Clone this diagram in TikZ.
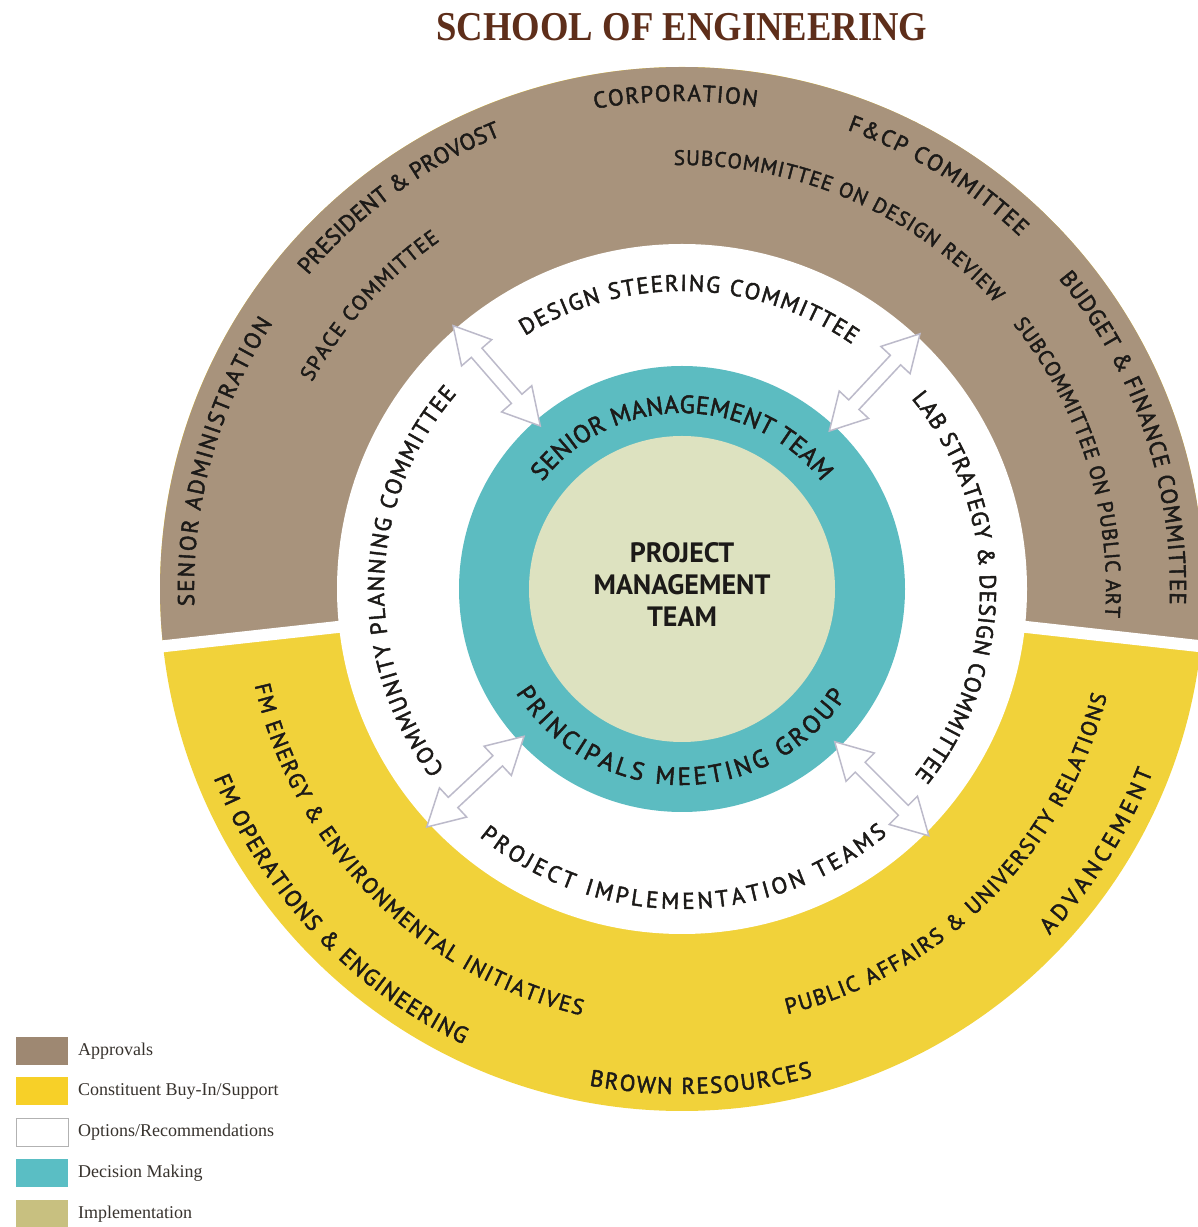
\documentclass[tikz,border=0pt]{standalone}
\usepackage{fontspec}
\setmainfont{PT Sans}
\newfontfamily\arcf{PT Sans}[FakeBold=2]
\newfontfamily\serifff{Liberation Serif}
\usetikzlibrary{calc,decorations.text}
\definecolor{brownc}{RGB}{168,147,124}
\definecolor{yellowc}{RGB}{241,210,58}
\definecolor{tealc}{RGB}{92,188,193}
\definecolor{innerc}{RGB}{221,226,192}
\definecolor{arrowc}{RGB}{188,186,202}
\definecolor{titlec}{RGB}{94,46,26}
\definecolor{txt}{RGB}{28,26,24}
\definecolor{legtxt}{RGB}{55,50,45}
\definecolor{lbrown}{RGB}{158,136,114}
\definecolor{lyellow}{RGB}{247,208,40}
\definecolor{lteal}{RGB}{90,190,196}
\definecolor{lolive}{RGB}{200,192,128}
\newcommand{\ringtext}[5]{%
  \path[decorate, decoration={text along path, text={|\arcf#4|#5}, text align=fit to path, text color=txt}]
    ([shift={(#2:#1)}]C) arc[start angle=#2, end angle=#3, radius=#1];}
\newcommand{\dblarrow}[1]{%
  \begin{scope}[shift={(C)}, rotate=#1]
    \draw[arrowc, fill=white, line width=1.5, line join=miter]
      (216,0) -- (252,20) -- (252,7) -- (313,7) -- (313,20) -- (349,0)
      -- (313,-20) -- (313,-7) -- (252,-7) -- (252,-20) -- cycle;
  \end{scope}}
\def\fA{\fontsize{23}{27}\selectfont}
\def\fB{\fontsize{21}{25}\selectfont}
\def\fC{\fontsize{23}{27}\selectfont}
\def\fD{\fontsize{25}{29}\selectfont}
\def\fE{\fontsize{22}{26}\selectfont}
\def\fF{\fontsize{23}{27}\selectfont}
\tikzset{legbox/.style={minimum width=52, minimum height=28, inner sep=0, draw=none},
  legtext/.style={anchor=west, inner sep=0, text=legtxt, font=\serifff\fontsize{18}{20}\selectfont}}
\begin{document}
\begin{tikzpicture}[x=1pt,y=1pt]
\useasboundingbox (0,0) rectangle (1198,1227);
\coordinate (C) at (682,638);
\begin{scope}
\clip (0,0) rectangle (1198,1227);
\fill[yellowc] (C) circle[radius=522];
\fill[brownc] (C) -- ([shift={(-6.3:522)}]C) arc[start angle=-6.3, end angle=186.3, radius=522] -- cycle;
\draw[white, line width=12] (C) -- ([shift={(-6.3:540)}]C);
\draw[white, line width=12] (C) -- ([shift={(186.3:540)}]C);
\fill[white] (C) circle[radius=345];
\fill[tealc] (C) circle[radius=223];
\fill[innerc] (C) circle[radius=153];
\end{scope}
% arrows
\dblarrow{131}
\dblarrow{47}
\dblarrow{223}
\dblarrow{-45}
% outer ring, line 1
\ringtext{488}{182}{147}{\fA}{SENIOR ADMINISTRATION}
\ringtext{488}{140}{112.2}{\fA}{PRESIDENT {\&} PROVOST}
\ringtext{488}{100.3}{81.2}{\fA}{CORPORATION}
\ringtext{488}{70.2}{46.2}{\fA}{F{\&}CP COMMITTEE}
\ringtext{488}{39.5}{-1.8}{\fA}{BUDGET {\&} FINANCE COMMITTEE}
% outer ring, line 2
\ringtext{424}{150.8}{124.8}{\fB}{SPACE COMMITTEE}
\ringtext{424}{91.1}{42.4}{\fB}{SUBCOMMITTEE ON DESIGN REVIEW}
\ringtext{424}{38.7}{-3.8}{\fB}{SUBCOMMITTEE ON PUBLIC ART}
% white ring
\ringtext{298}{121.8}{55.2}{\fC}{DESIGN STEERING COMMITTEE}
\ringtext{298}{39.7}{-38.7}{\fC}{LAB STRATEGY {\&} DESIGN COMMITTEE}
\ringtext{298}{217.2}{139.1}{\fC}{COMMUNITY PLANNING COMMITTEE}
\ringtext{320}{230.7}{309.9}{\fC}{PROJECT IMPLEMENTATION TEAMS}
% teal ring
\ringtext{176}{142.5}{37.5}{\fD}{SENIOR MANAGEMENT TEAM}
\ringtext{196}{212}{327}{\fD}{PRINCIPALS MEETING GROUP}
% yellow ring
\ringtext{438}{192.7}{256.7}{\fE}{FM ENERGY {\&} ENVIRONMENTAL INITIATIVES}
\ringtext{438}{283.9}{345.9}{\fE}{PUBLIC AFFAIRS {\&} UNIVERSITY RELATIONS}
\ringtext{505}{202}{244.3}{\fF}{FM OPERATIONS {\&} ENGINEERING}
\ringtext{505}{259.4}{285}{\fF}{BROWN RESOURCES}
\ringtext{505}{316.7}{338.8}{\fF}{ADVANCEMENT}
% centre
\node[font=\bfseries\fontsize{28}{32}\selectfont, align=center, text=txt] (pmt) at (682,642) {PROJECT\\MANAGEMENT\\TEAM};
% title
\node[font=\serifff\bfseries\fontsize{41}{41}\selectfont, text=titlec, xscale=0.894] (title) at (682,1200) {SCHOOL OF ENGINEERING};
% legend
\node[legbox, fill=lbrown] (l1) at (42,176) {};
\node[legbox, fill=lyellow] (l2) at (42,135.5) {};
\node[legbox, fill=white, draw=gray!60, line width=0.8] (l3) at (42,95) {};
\node[legbox, fill=lteal] (l4) at (42,53.5) {};
\node[legbox, fill=lolive] (l5) at (42,13) {};
\node[legtext] (t1) at (78,176) {Approvals};
\node[legtext] (t2) at (78,135.5) {Constituent Buy-In/Support};
\node[legtext] (t3) at (78,95) {Options/Recommendations};
\node[legtext] (t4) at (78,53.5) {Decision Making};
\node[legtext] (t5) at (78,13) {Implementation};
\end{tikzpicture}
\end{document}
